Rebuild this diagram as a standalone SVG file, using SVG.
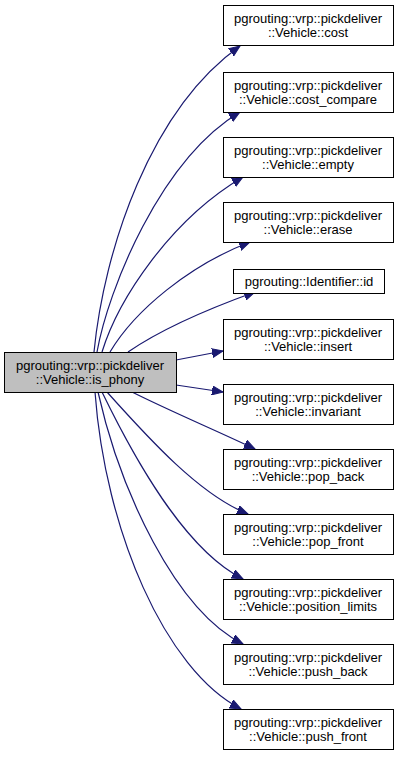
<svg xmlns="http://www.w3.org/2000/svg" width="400" height="757" viewBox="0 0 400 757">
<style>
.n rect{fill:#ffffff;stroke:#000000;stroke-width:1}
.src rect{fill:#bfbfbf}
text{font-family:"Liberation Sans",Arial,sans-serif;font-size:13px;fill:#000000;text-anchor:middle}
.e path{fill:none;stroke:#191970;stroke-width:1.2;marker-end:url(#a)}
</style>
<defs>
<marker id="a" markerUnits="userSpaceOnUse" markerWidth="12" markerHeight="10" viewBox="0 0 12 10" refX="11" refY="5" orient="auto">
<path d="M0,0.5 L11,5 L0,9.5 Z" fill="#191970" stroke="#191970" stroke-width="1"/>
</marker>
</defs>
<rect width="400" height="757" fill="#ffffff"/>
<g class="e" id="edges">
<path d="M94,352 C104,250 150,110 240,46"/>
<path d="M97,352 C108,290 160,160 240,112"/>
<path d="M102,352 C118,300 170,220 243,177"/>
<path d="M110,352 C135,310 190,265 250,242"/>
<path d="M128,352 C160,330 205,310 255,292"/>
<path d="M176,360 L223,351"/>
<path d="M176,385 L223,392"/>
<path d="M132,392 C170,411 215,430 255,449"/>
<path d="M107,392 C150,440 200,495 248,514"/>
<path d="M102,392 C135,460 185,550 243,579"/>
<path d="M98,392 C120,490 175,610 243,644"/>
<path d="M95,392 C105,530 165,670 241,709"/>
</g>
<g class="n src" id="is_phony"><rect x="4.5" y="352.5" width="172" height="40"/><text x="90" y="369.5">pgrouting::vrp::pickdeliver</text><text x="90" y="384">::Vehicle::is_phony</text></g>
<g class="n" id="cost"><rect x="223.5" y="5.5" width="170" height="40"/><text x="308" y="22.5">pgrouting::vrp::pickdeliver</text><text x="308" y="37">::Vehicle::cost</text></g>
<g class="n" id="cost_compare"><rect x="223.5" y="72.5" width="170" height="40"/><text x="308" y="89.5">pgrouting::vrp::pickdeliver</text><text x="308" y="104">::Vehicle::cost_compare</text></g>
<g class="n" id="empty"><rect x="223.5" y="137.5" width="170" height="40"/><text x="308" y="154.5">pgrouting::vrp::pickdeliver</text><text x="308" y="169">::Vehicle::empty</text></g>
<g class="n" id="erase"><rect x="223.5" y="202.5" width="170" height="40"/><text x="308" y="219.5">pgrouting::vrp::pickdeliver</text><text x="308" y="234">::Vehicle::erase</text></g>
<g class="n" id="id"><rect x="233.5" y="269.5" width="151" height="24"/><text x="309" y="285.5">pgrouting::Identifier::id</text></g>
<g class="n" id="insert"><rect x="223.5" y="319.5" width="170" height="40"/><text x="308" y="336.5">pgrouting::vrp::pickdeliver</text><text x="308" y="351">::Vehicle::insert</text></g>
<g class="n" id="invariant"><rect x="223.5" y="384.5" width="170" height="40"/><text x="308" y="401.5">pgrouting::vrp::pickdeliver</text><text x="308" y="416">::Vehicle::invariant</text></g>
<g class="n" id="pop_back"><rect x="223.5" y="449.5" width="170" height="40"/><text x="308" y="466.5">pgrouting::vrp::pickdeliver</text><text x="308" y="481">::Vehicle::pop_back</text></g>
<g class="n" id="pop_front"><rect x="223.5" y="514.5" width="170" height="40"/><text x="308" y="531.5">pgrouting::vrp::pickdeliver</text><text x="308" y="546">::Vehicle::pop_front</text></g>
<g class="n" id="position_limits"><rect x="223.5" y="579.5" width="170" height="40"/><text x="308" y="596.5">pgrouting::vrp::pickdeliver</text><text x="308" y="611">::Vehicle::position_limits</text></g>
<g class="n" id="push_back"><rect x="223.5" y="644.5" width="170" height="40"/><text x="308" y="661.5">pgrouting::vrp::pickdeliver</text><text x="308" y="676">::Vehicle::push_back</text></g>
<g class="n" id="push_front"><rect x="223.5" y="709.5" width="170" height="40"/><text x="308" y="726.5">pgrouting::vrp::pickdeliver</text><text x="308" y="741">::Vehicle::push_front</text></g>
</svg>
